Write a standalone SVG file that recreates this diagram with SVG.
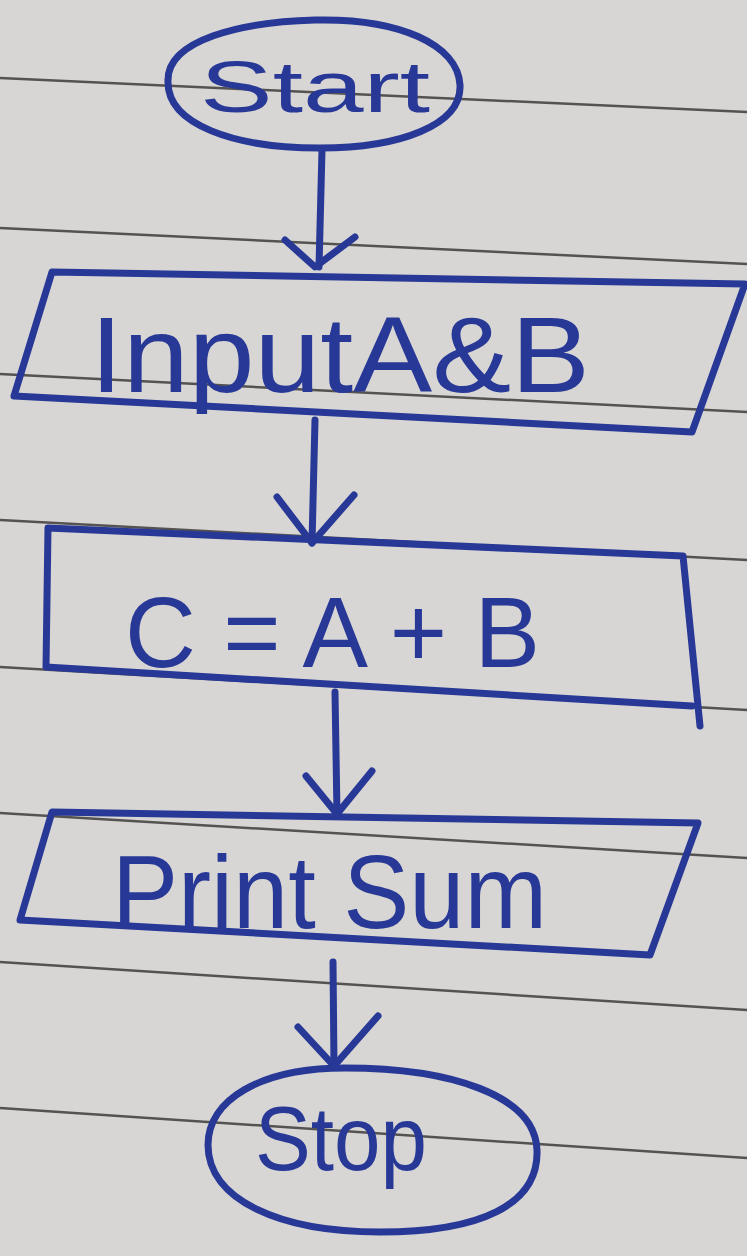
<svg xmlns="http://www.w3.org/2000/svg" width="747" height="1256" viewBox="0 0 747 1256">
  <style>
    .ink { fill: none; stroke: #283896; stroke-width: 7; stroke-linecap: round; stroke-linejoin: round; }
    .rule { stroke: #555351; stroke-width: 2.5; fill: none; }
    .lbl { font-family: "Liberation Sans", "DejaVu Sans", sans-serif; fill: #283896; text-anchor: start; }
  </style>
  <rect x="0" y="0" width="747" height="1256" fill="#d7d6d4"/>
  <g id="ruled-lines">
    <line class="rule" x1="0" y1="78" x2="747" y2="112"/>
    <line class="rule" x1="0" y1="228" x2="747" y2="264"/>
    <line class="rule" x1="0" y1="374" x2="747" y2="412"/>
    <line class="rule" x1="0" y1="520" x2="747" y2="560"/>
    <line class="rule" x1="0" y1="667" x2="747" y2="710"/>
    <line class="rule" x1="0" y1="813" x2="747" y2="858"/>
    <line class="rule" x1="0" y1="962" x2="747" y2="1010"/>
    <line class="rule" x1="0" y1="1108" x2="747" y2="1158"/>
  </g>
  <g id="connectors">
    <g id="c1">
      <path class="ink" d="M322 150 L319 267"/>
      <path class="ink" d="M285 240 L315 267 L355 237"/>
    </g>
    <g id="c2">
      <path class="ink" d="M315 420 L312 543"/>
      <path class="ink" d="M277 497 L312 543 L354 495"/>
    </g>
    <g id="c3">
      <path class="ink" d="M335 692 L337 814"/>
      <path class="ink" d="M306 776 L337 814 L372 771"/>
    </g>
    <g id="c4">
      <path class="ink" d="M333 962 L334 1066"/>
      <path class="ink" d="M298 1027 L334 1066 L378 1016"/>
    </g>
  </g>
  <g id="start">
    <path class="ink" d="M168 80 C168 40 240 22 315 20 C400 18 458 45 460 85 C462 125 400 148 320 148 C235 148 166 125 168 80 Z"/>
    <text class="lbl" x="200" y="112" font-size="72" textLength="230" lengthAdjust="spacingAndGlyphs">Start</text>
  </g>
  <g id="input">
    <path class="ink" d="M52 272 L745 284 L692 432 L14 396 Z"/>
    <text class="lbl" x="90" y="392" font-size="108" textLength="500" lengthAdjust="spacingAndGlyphs">InputA&amp;B</text>
  </g>
  <g id="process">
    <path class="ink" d="M48 528 L683 556 L700 726 M692 706 L46 667 L48 528"/>
    <text class="lbl" x="125" y="667" font-size="100" textLength="415" lengthAdjust="spacingAndGlyphs">C = A + B</text>
  </g>
  <g id="print">
    <path class="ink" d="M52 812 L698 823 L650 955 L20 920 Z"/>
    <text class="lbl" x="112" y="928" font-size="104" textLength="435" lengthAdjust="spacingAndGlyphs">Print Sum</text>
  </g>
  <g id="stop">
    <path class="ink" d="M208 1145 C208 1100 260 1068 345 1068 C450 1068 535 1095 537 1150 C539 1205 480 1232 380 1232 C280 1232 208 1200 208 1145 Z"/>
    <text class="lbl" x="255" y="1170" font-size="90" textLength="172" lengthAdjust="spacingAndGlyphs">Stop</text>
  </g>
</svg>
